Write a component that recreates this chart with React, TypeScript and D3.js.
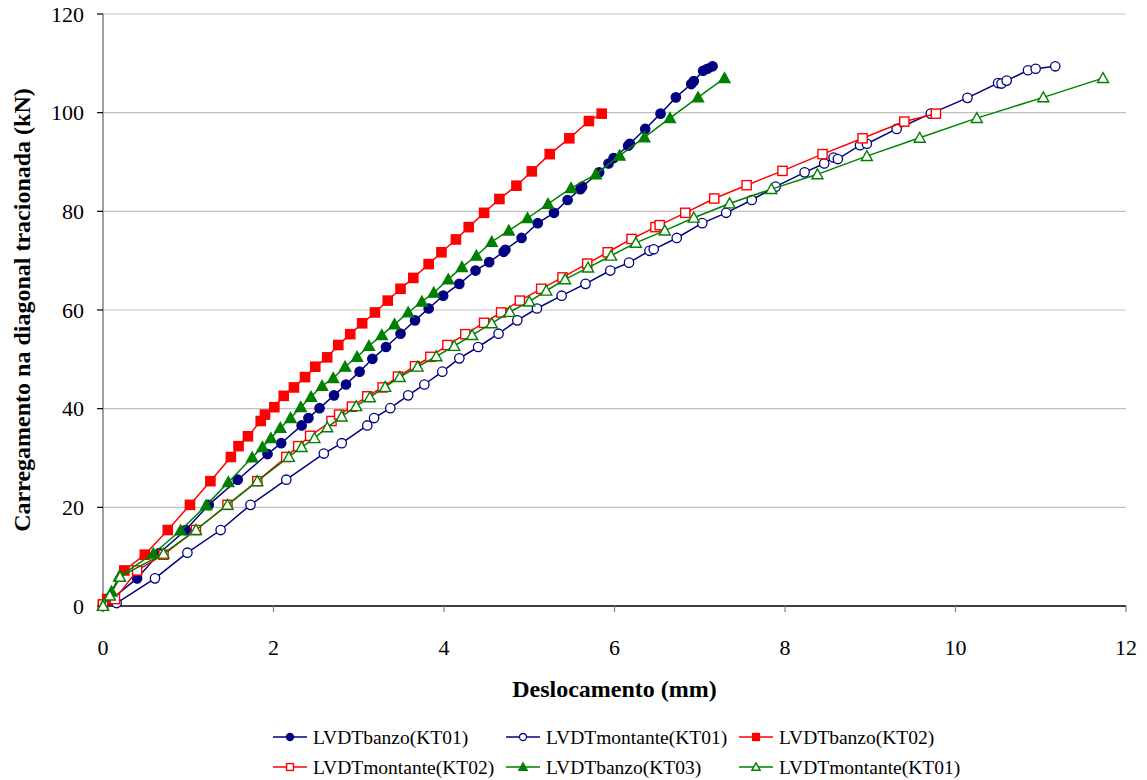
import React from "react";
import * as d3 from "d3";

type P = [number, number];

const banzoKT01: P[] = [[0,0],[0.40,5.6],[0.66,10.7],[0.97,15.4],[1.24,20.5],[1.58,25.6],[1.93,30.8],[2.09,33.0],[2.33,36.6],[2.41,38.1],[2.54,40.1],[2.71,42.7],[2.85,44.9],[3.01,47.5],[3.16,50.1],[3.32,52.5],[3.49,55.2],[3.66,57.9],[3.82,60.3],[3.99,62.9],[4.18,65.3],[4.37,68.0],[4.53,69.7],[4.70,71.8],[4.72,72.2],[4.91,74.6],[5.10,77.6],[5.29,79.7],[5.45,82.3],[5.60,84.5],[5.62,85.0],[5.82,87.9],[5.93,89.7],[5.99,90.8],[6.16,93.3],[6.18,93.7],[6.36,96.7],[6.54,99.8],[6.72,103.1],[6.90,105.8],[6.93,106.4],[7.04,108.5],[7.09,108.9],[7.15,109.4]];
const montanteKT01: P[] = [[0,0],[0.16,0.6],[0.61,5.6],[0.99,10.8],[1.38,15.4],[1.73,20.5],[2.15,25.6],[2.59,30.9],[2.80,33.0],[3.10,36.6],[3.18,38.1],[3.37,40.1],[3.58,42.7],[3.77,44.9],[3.98,47.5],[4.18,50.2],[4.40,52.5],[4.64,55.2],[4.86,57.9],[5.09,60.3],[5.38,62.9],[5.66,65.3],[5.95,68.0],[6.17,69.6],[6.41,72.0],[6.46,72.3],[6.73,74.6],[7.03,77.6],[7.31,79.7],[7.61,82.3],[7.89,85.0],[8.23,87.9],[8.46,89.7],[8.57,90.9],[8.62,90.6],[8.88,93.4],[8.96,93.7],[9.31,96.7],[9.71,99.8],[10.14,103.0],[10.50,106.0],[10.54,105.9],[10.60,106.5],[10.85,108.6],[10.94,108.9],[11.17,109.4]];
const banzoKT02: P[] = [[0,0.3],[0.05,1.4],[0.25,7.2],[0.49,10.4],[0.76,15.4],[1.02,20.5],[1.26,25.3],[1.50,30.2],[1.59,32.4],[1.70,34.4],[1.85,37.5],[1.90,38.8],[2.01,40.3],[2.12,42.6],[2.24,44.3],[2.37,46.4],[2.49,48.5],[2.63,50.4],[2.76,52.9],[2.90,55.1],[3.04,57.3],[3.19,59.5],[3.34,61.9],[3.49,64.3],[3.64,66.5],[3.82,69.3],[3.97,71.7],[4.14,74.3],[4.29,76.8],[4.47,79.7],[4.65,82.5],[4.85,85.2],[5.03,88.1],[5.24,91.6],[5.47,94.8],[5.70,98.3],[5.85,99.8]];
const montanteKT02: P[] = [[0,0.3],[0.14,1.4],[0.40,7.2],[0.71,10.4],[1.09,15.4],[1.46,20.5],[1.81,25.3],[2.15,30.2],[2.29,32.4],[2.43,34.5],[2.68,37.5],[2.77,38.8],[2.92,40.4],[3.10,42.5],[3.28,44.3],[3.46,46.5],[3.66,48.6],[3.84,50.5],[4.04,52.9],[4.25,55.1],[4.47,57.4],[4.67,59.5],[4.89,61.9],[5.14,64.3],[5.39,66.6],[5.68,69.4],[5.92,71.7],[6.20,74.4],[6.48,76.8],[6.53,77.2],[6.83,79.7],[7.17,82.6],[7.55,85.3],[7.97,88.2],[8.44,91.6],[8.91,94.8],[9.40,98.2],[9.77,99.8]];
const banzoKT03: P[] = [[0,0],[0.10,2.9],[0.19,6.0],[0.59,10.6],[0.91,15.3],[1.21,20.4],[1.47,25.1],[1.75,30.1],[1.87,32.2],[1.97,34.0],[2.08,36.1],[2.20,38.1],[2.32,40.3],[2.44,42.4],[2.57,44.6],[2.70,46.2],[2.84,48.5],[2.98,50.5],[3.12,52.7],[3.27,54.9],[3.42,57.1],[3.58,59.5],[3.74,61.7],[3.88,63.5],[4.05,66.2],[4.21,68.7],[4.38,71.0],[4.56,73.8],[4.76,76.1],[4.98,78.6],[5.22,81.5],[5.49,84.7],[5.78,87.5],[6.06,91.3],[6.35,95.0],[6.65,98.9],[6.98,103.1],[7.29,107.0]];
const montanteKT01b: P[] = [[0,0],[0.08,2.1],[0.20,5.9],[0.71,10.6],[1.09,15.4],[1.46,20.5],[1.81,25.3],[2.18,30.2],[2.33,32.2],[2.48,34.0],[2.63,36.2],[2.80,38.4],[2.97,40.5],[3.13,42.3],[3.31,44.4],[3.48,46.4],[3.69,48.5],[3.91,50.6],[4.12,52.7],[4.33,54.9],[4.56,57.3],[4.77,59.6],[5.00,61.7],[5.20,63.9],[5.42,66.2],[5.69,68.6],[5.96,71.0],[6.25,73.6],[6.59,76.1],[6.93,78.7],[7.35,81.6],[7.84,84.5],[8.38,87.5],[8.96,91.2],[9.58,94.9],[10.25,98.9],[11.03,103.1],[11.73,107.0]];

const seriesNames = ["LVDTbanzo(KT01)", "LVDTmontante(KT01)", "LVDTbanzo(KT02)", "LVDTmontante(KT02)", "LVDTbanzo(KT03)", "LVDTmontante(KT01)"];
const xTicks = [0, 2, 4, 6, 8, 10, 12];
const yTicks = [0, 20, 40, 60, 80, 100, 120];
const xTitle = "Deslocamento (mm)";
const yTitle = "Carregamento na diagonal tracionada (kN)";

const NAVY = "#000080", RED = "#FF0000", GREEN = "#008000";
const styles = [
  { color: NAVY, shape: "circle", fill: true },
  { color: NAVY, shape: "circle", fill: false },
  { color: RED, shape: "square", fill: true },
  { color: RED, shape: "square", fill: false },
  { color: GREEN, shape: "triangle", fill: true },
  { color: GREEN, shape: "triangle", fill: false },
];
const allData = [banzoKT01, montanteKT01, banzoKT02, montanteKT02, banzoKT03, montanteKT01b];

const L = 103, R = 1126, T = 14, B = 606;
const FONT = '"Liberation Serif", "DejaVu Serif", serif';
const tx: React.CSSProperties = { fontFamily: FONT };

function Marker({ x, y, shape, color, fill, s }: any) {
  const f = fill ? color : "#fff";
  if (shape === "circle") return <circle cx={x} cy={y} r={4.7 * s} fill={f} stroke={color} strokeWidth={1.3} />;
  if (shape === "square") { const h = 4.6 * s; return <rect x={x - h} y={y - h} width={2 * h} height={2 * h} fill={f} stroke={color} strokeWidth={1.4} />; }
  const h = 5.5 * s;
  const path = `M${x},${y - h}L${x + h},${y + h * 0.8}L${x - h},${y + h * 0.8}Z`;
  return <path d={path} fill={f} stroke={color} strokeWidth={1.4} />;
}

export default function App() {
  const x = d3.scaleLinear().domain([0, 12]).range([L, R]);
  const y = d3.scaleLinear().domain([0, 120]).range([B, T]);
  const line = d3.line<P>().x(d => x(d[0])).y(d => y(d[1]));
  const legendCols = [273, 506, 739];
  const legendRows = [737, 767];
  return (
    <svg width={1147} height={780} style={{ position: "absolute", left: 0, top: 0, background: "#fff" }}>
      {yTicks.filter(t => t > 0).map(t => (
        <line key={"g" + t} x1={L} x2={R} y1={y(t)} y2={y(t)} stroke="#c0c0c0" strokeWidth={1.2} />
      ))}
      <line x1={L} x2={L} y1={T} y2={B} stroke="#808080" strokeWidth={1.5} />
      {yTicks.map(t => (
        <g key={"yt" + t}>
          <line x1={L - 6} x2={L} y1={y(t)} y2={y(t)} stroke="#000" strokeWidth={1.2} />
          <text x={84} y={y(t)} dy="0.35em" textAnchor="end" fontSize={22} style={tx}>{t}</text>
        </g>
      ))}
      <line x1={L} x2={R} y1={B} y2={B} stroke="#000" strokeWidth={1.5} />
      {xTicks.map(t => (
        <g key={"xt" + t}>
          <line x1={x(t)} x2={x(t)} y1={B} y2={B + 6} stroke="#808080" strokeWidth={1.2} />
          <text x={x(t)} y={655} textAnchor="middle" fontSize={22} style={tx}>{t}</text>
        </g>
      ))}
      <text x={(L + R) / 2} y={697} textAnchor="middle" fontSize={24} fontWeight="bold" style={tx}>{xTitle}</text>
      <text transform={`translate(30,${(T + B) / 2}) rotate(-90)`} textAnchor="middle" fontSize={24} fontWeight="bold" style={tx}>{yTitle}</text>
      {allData.map((data, i) => (
        <g key={"s" + i}>
          <path d={line(data) || ""} fill="none" stroke={styles[i].color} strokeWidth={1.5} />
          {data.map((d, j) => (
            <Marker key={j} x={x(d[0])} y={y(d[1])} shape={styles[i].shape} color={styles[i].color} fill={styles[i].fill} s={1} />
          ))}
        </g>
      ))}
      {seriesNames.map((name, i) => {
        const cx = legendCols[i % 3];
        const cy = legendRows[Math.floor(i / 3)];
        return (
          <g key={"lg" + i}>
            <line x1={cx} x2={cx + 34} y1={cy} y2={cy} stroke={styles[i].color} strokeWidth={1.5} />
            <Marker x={cx + 17} y={cy} shape={styles[i].shape} color={styles[i].color} fill={styles[i].fill} s={0.75} />
            <text x={cx + 40} y={cy} dy="0.35em" fontSize={19.5} style={tx}>{name}</text>
          </g>
        );
      })}
    </svg>
  );
}
